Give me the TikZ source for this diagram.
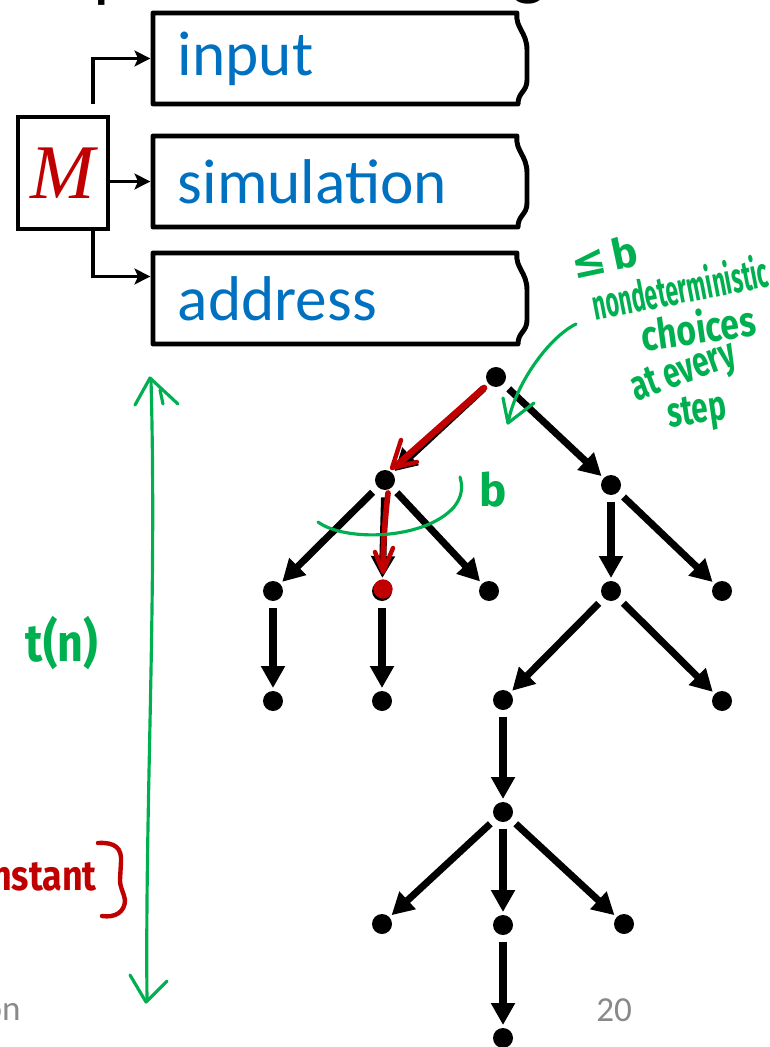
\documentclass[tikz,border=0pt]{standalone}
\usepackage{fontspec}
\setmainfont{Carlito}
\newfontfamily\handfont{Fira Sans}
\newfontfamily\symfont{DejaVu Sans}
\newfontfamily\machfont{Liberation Serif}
\usetikzlibrary{arrows.meta}

\definecolor{tapeblue}{RGB}{0,112,192}
\definecolor{penred}{RGB}{192,0,0}
\definecolor{pengreen}{RGB}{0,176,80}
\definecolor{footgray}{RGB}{137,137,137}

% outline of one tape cell, torn on the right
\newcommand{\tapeoutline}[1]{%
  \draw[tapeline, shift={(#1.north west)}] (364,0) -- (0,0) -- (0,91) -- (365,91)
    .. controls (365,79) and (374,79) .. (374,67) -- (374,37)
    .. controls (374,19) and (362,15) .. cycle;}

\tikzset{
  tape/.style={anchor=north west, inner xsep=0.5cm, inner ysep=0pt, outer sep=0pt,
    text width=6.3cm, align=left, minimum height=1.82cm, text=tapeblue,
    font=\fontsize{36}{36}\selectfont},
  tapeline/.style={line width=2.8pt, line join=round},
  marrow/.style={line width=1.8pt, -{Stealth[length=9pt,width=9pt,inset=2pt]}, shorten >=1.5pt},
  treedot/.style={circle, fill, inner sep=0pt, minimum size=0.4cm},
  treearrow/.style={line width=4pt, -{Triangle[length=12.5pt,width=13pt]}, shorten <=4pt, shorten >=1.5pt},
  redpen/.style={penred, line width=2.5pt, line cap=round, line join=round},
  greenpen/.style={pengreen, line width=1.8pt, line cap=round, line join=round},
  note/.style={inner sep=0pt, text=pengreen, font=\handfont\bfseries\fontsize{24}{24}\selectfont},
}

\begin{document}
\begin{tikzpicture}[x=0.02cm, y=-0.02cm]
\useasboundingbox (0,0) rectangle (770,1047);

% title, cut off at the top
\node[anchor=base west, inner sep=0pt, font=\fontsize{42}{42}\selectfont] (titlep) at (93,-6) {p};
\node[anchor=base west, inner sep=0pt, font=\fontsize{42}{42}\selectfont] (titleg) at (511,-8) {g};

% the three tapes
\node[tape] (input) at (153,13) {input};
\node[tape] (sim) at (153,136) {simulation};
\node[tape] (addr) at (153,253) {address};
\tapeoutline{input}
\tapeoutline{sim}
\tapeoutline{addr}

% the machine
\node[draw, line width=2.4pt, minimum width=1.8cm, minimum height=2.24cm, inner sep=0pt,
  text=penred, font=\machfont\itshape\fontsize{44}{44}\selectfont] (M) at (63,173) {M};
\draw[marrow] ([xshift=0.6cm, yshift=0.22cm]M.north) |- (input.west);
\draw[marrow] (M.east |- sim.west) -- (sim.west);
\draw[marrow] ([xshift=0.6cm]M.south) |- ([yshift=0.44cm]addr.west);

% computation tree
\node[treedot] (root) at (496,377) {};
\node[treedot] (a) at (385,480) {};
\node[treedot] (b) at (611,485) {};
\node[treedot] (a1) at (273,591) {};
\node[treedot] (a2) at (382,591) {};
\node[treedot] (a3) at (489,591) {};
\node[treedot] (b1) at (611,591) {};
\node[treedot] (b2) at (722,591) {};
\node[treedot] (a1c) at (273,701) {};
\node[treedot] (a2c) at (382,701) {};
\node[treedot] (b1a) at (503,700) {};
\node[treedot] (b1b) at (722,701) {};
\node[treedot] (c) at (503,812) {};
\node[treedot] (c1) at (382,924) {};
\node[treedot] (c2) at (503,925) {};
\node[treedot] (c3) at (624,924) {};
\node[treedot] (d) at (503,1038) {};

\draw[treearrow] (root) -- (a);
\draw[treearrow] (root) -- (b);
\draw[treearrow] (a) -- (a1);
\draw[treearrow] (a) -- (a2);
\draw[treearrow] (a) -- (a3);
\draw[treearrow] (b) -- (b1);
\draw[treearrow] (b) -- (b2);
\draw[treearrow] (a1) -- (a1c);
\draw[treearrow] (a2) -- (a2c);
\draw[treearrow] (b1) -- (b1a);
\draw[treearrow] (b1) -- (b1b);
\draw[treearrow] (b1a) -- (c);
\draw[treearrow] (c) -- (c1);
\draw[treearrow] (c) -- (c2);
\draw[treearrow] (c) -- (c3);
\draw[treearrow] (c2) -- (d);

% red ink: the chosen path
\draw[redpen, line width=3.8pt] (484,388) -- (396,466);
\draw[redpen] (401,440) -- (392,468) -- (417,462);
\draw[redpen, line width=3.2pt] (388,493) .. controls (385,520) and (383,545) .. (383,568);
\draw[redpen] (375,552) -- (383,572) -- (393,548);
\fill[penred] (383,589) circle (5.5pt);
\node[anchor=base east, inner sep=0pt, text=penred, font=\handfont\bfseries\fontsize{24}{24}\selectfont]
  (const) at (97,890) {\scalebox{0.85}[1]{constant}};
\draw[redpen] (98,843) .. controls (115,842) and (122,848) .. (121,862) -- (120,880)
  .. controls (120,888) and (124,893) .. (125,900) .. controls (125,912) and (115,918) .. (102,916);

% green ink
\draw[greenpen] (151,380) .. controls (157,600) and (145,800) .. (147,1001);
\draw[greenpen] (135,405) -- (150,378) -- (178,404);
\draw[greenpen] (160,390) -- (163,404);
\draw[greenpen] (130,975) -- (146,1002) -- (167,981);
\node[note, font=\handfont\bfseries\fontsize{30}{30}\selectfont] (time) at (62,643) {\scalebox{0.85}[1]{t(n)}};

\draw[greenpen] (576,324) .. controls (548,338) and (515,385) .. (508,423);
\draw[greenpen] (503,398) -- (508,423) -- (534,403);
\node[note, rotate=12] (bound) at (604,257) {{\symfont ≤}\,b};
\node[note, rotate=11] (nondet) at (680,287) {\scalebox{0.54}[1]{nondeterministic}};
\node[note, rotate=8] (choices) at (698,327) {\scalebox{0.8}[1]{choices}};
\node[note, rotate=20] (atevery) at (684,374) {\scalebox{0.7}[1]{at every}};
\node[note, rotate=8] (step) at (697,414) {\scalebox{0.7}[1]{step}};

\draw[greenpen] (318,522) .. controls (345,542) and (425,540) .. (454,507)
  .. controls (462,497) and (463,487) .. (460,477);
\node[note, font=\handfont\bfseries\fontsize{26}{26}\selectfont] (branching) at (493,490) {b};

% footer
\node[anchor=base east, inner sep=0pt, text=footgray, font=\fontsize{20}{20}\selectfont] (footer) at (21,1020) {on};
\node[anchor=base west, inner sep=0pt, text=footgray, font=\fontsize{20}{20}\selectfont] (pagenum) at (596,1021) {20};
\end{tikzpicture}
\end{document}
